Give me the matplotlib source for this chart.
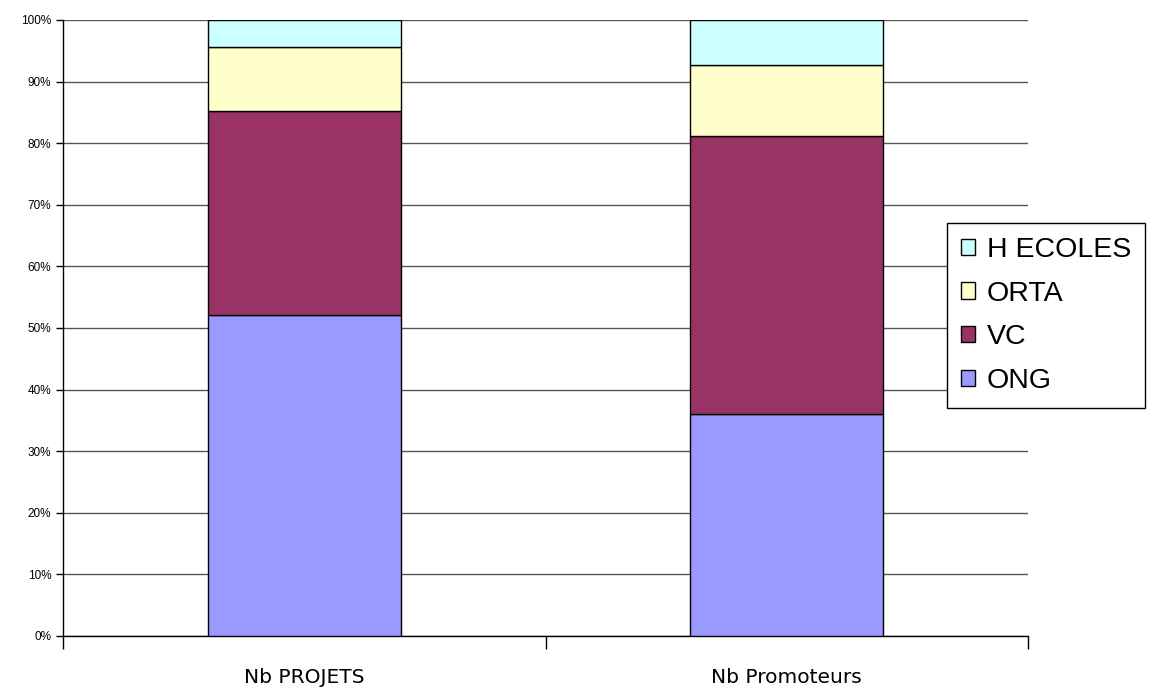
import numpy as np
import matplotlib
matplotlib.use("Agg")
import matplotlib.pyplot as plt
from matplotlib.ticker import PercentFormatter, FixedLocator, NullFormatter

categories = ["Nb PROJETS", "Nb Promoteurs"]
series_names = ["ONG", "VC", "ORTA", "H ECOLES"]
ong = [52.1, 36.1]
vc = [33.1, 45.1]
orta = [10.4, 11.5]
h_ecoles = [4.4, 7.3]
colors = ["#9999FF", "#993366", "#FFFFCC", "#CCFFFF"]

plt.rcParams['font.family'] = ['Liberation Sans', 'DejaVu Sans']

fig = plt.figure(figsize=(11.52, 6.9), dpi=100)
ax = fig.add_axes([63 / 1152, 1 - 636 / 690, (1028 - 63) / 1152, (636 - 20) / 690])

x = np.arange(len(categories))
bottom = np.zeros(len(categories))
handles = []
for name, vals, col in zip(series_names, [ong, vc, orta, h_ecoles], colors):
    b = ax.bar(x, vals, width=0.4, bottom=bottom, color=col, edgecolor="black",
               linewidth=1.0, label=name, zorder=3)
    handles.append(b)
    bottom += np.array(vals)

ax.set_xlim(-0.5, 1.5)
ax.set_ylim(0, 100)
ax.yaxis.set_major_locator(FixedLocator(np.arange(0, 101, 10)))
ax.yaxis.set_major_formatter(PercentFormatter(decimals=0))
ax.grid(axis="y", color="#555555", linewidth=1.0, zorder=0)

# category boundary ticks, labels centred under bars
ax.set_xticks([-0.5, 0.5, 1.5])
ax.xaxis.set_major_formatter(NullFormatter())
ax.set_xticks(x, minor=True)
ax.set_xticklabels(categories, minor=True, fontsize=14.5, family="Liberation Sans Narrow")
ax.tick_params(axis="x", which="major", length=9, width=1, color="black", direction="out")
ax.tick_params(axis="x", which="minor", length=0, pad=23)
ax.tick_params(axis="y", length=5, width=1, labelsize=8.5, direction="out")

for s in ["top", "right"]:
    ax.spines[s].set_visible(False)
for s in ["left", "bottom"]:
    ax.spines[s].set_color("black")
    ax.spines[s].set_linewidth(1.0)

leg = fig.legend(handles[::-1], series_names[::-1], loc="center left",
                 bbox_to_anchor=(947 / 1152, 1 - 315.5 / 690), fontsize=20.5,
                 frameon=True, fancybox=False, edgecolor="black", framealpha=1,
                 handlelength=0.5, handleheight=0.5, handletextpad=0.4,
                 labelspacing=0.62, borderpad=0.5, borderaxespad=0)
leg.get_frame().set_linewidth(1.0)

fig.savefig("out.png", dpi=100)
